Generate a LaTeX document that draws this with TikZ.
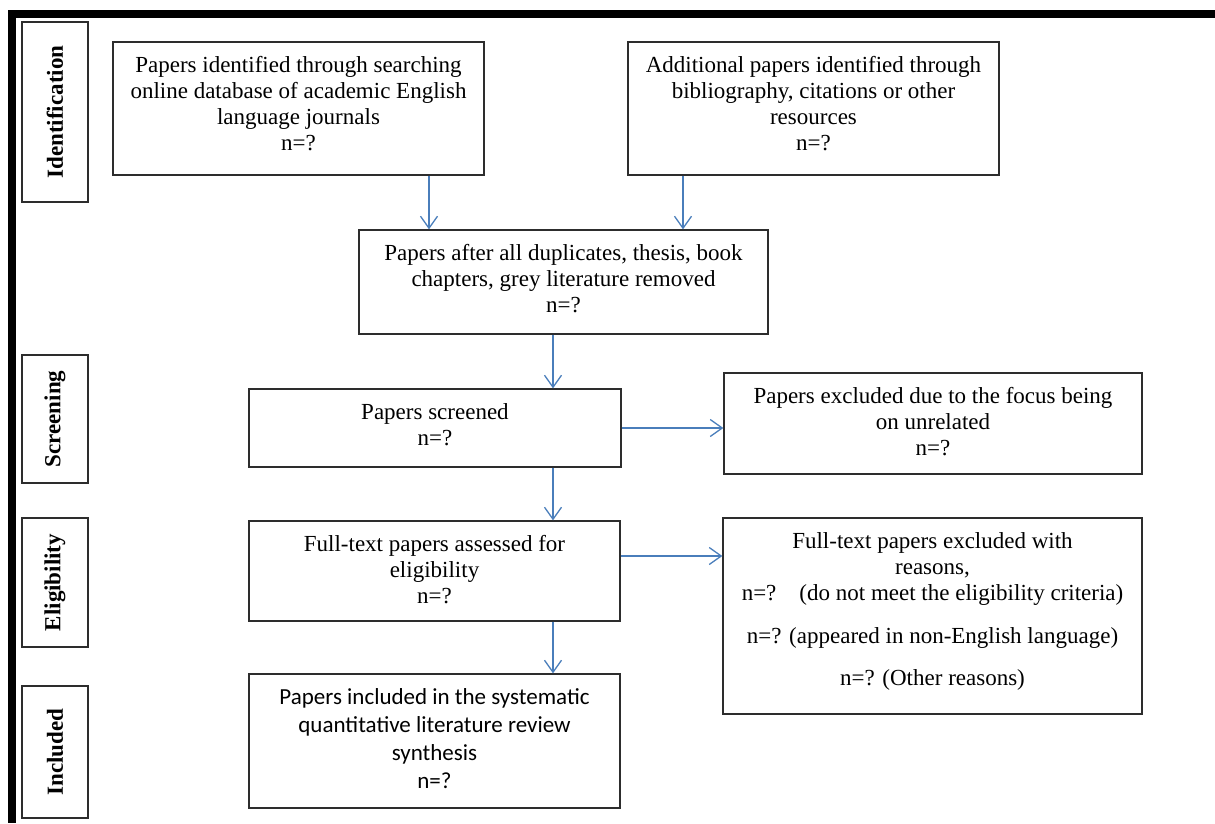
\documentclass[tikz,border=0pt]{standalone}
\usepackage{fontspec}
\setmainfont{Liberation Serif}
\newfontfamily\calibrifont{Carlito}
\usetikzlibrary{arrows.meta}
\definecolor{arrowblue}{RGB}{74,126,187}
\definecolor{edgegray}{RGB}{45,45,45}
\newcommand{\boxtext}[3]{\parbox[c][#2][t]{#1}{\centering\rule{0pt}{30pt}#3}}

\begin{document}
\begin{tikzpicture}[x=1pt,y=-1pt,
    stage/.style={draw=edgegray,line width=1.3pt,inner sep=0pt,font=\fontsize{23}{26}\selectfont},
    phase/.style={draw=edgegray,line width=1.3pt,inner sep=0pt,rotate=90,
      minimum height=66pt,font=\bfseries\fontsize{23}{26}\selectfont},
    flow/.style={draw=arrowblue,line width=1.3pt,-{Straight Barb[length=12pt,width=17pt]}}]
    \useasboundingbox (0,0) rectangle (1215,823);
    \fill (8,10) rectangle (1215,18);
    \fill (8,10) rectangle (16,823);
    % phases
    \node[phase,minimum width=180pt] (identify) at (55,112) {Identification};
    \node[phase,minimum width=128pt] (screen) at (55,419) {Screening};
    \node[phase,minimum width=129pt] (eligible) at (55,582.5) {Eligibility};
    \node[phase,minimum width=132pt] (include) at (55,752) {Included};
    % boxes
    \node[stage] (db) at (298.5,108.5)
      {\boxtext{371pt}{133pt}{Papers identified through searching\\online database of academic English\\language journals\\n=?}};
    \node[stage] (other) at (813.5,108.5)
      {\boxtext{371pt}{133pt}{Additional papers identified through\\bibliography, citations or other\\resources\\n=?}};
    \node[stage] (dedup) at (563.5,282)
      {\boxtext{409pt}{104pt}{Papers after all duplicates, thesis, book\\chapters, grey literature removed\\n=?}};
    \node[stage] (screened) at (435,428)
      {\boxtext{372pt}{78pt}{Papers screened\\n=?}};
    \node[stage] (excluded) at (933,423.5)
      {\boxtext{418pt}{101pt}{Papers excluded due to the focus being\\on unrelated\\n=?}};
    \node[stage] (fulltext) at (434.5,571)
      {\boxtext{371pt}{100pt}{Full-text papers assessed for\\eligibility\\n=?}};
    \node[stage] (ftexcluded) at (932.5,616)
      {\boxtext{419pt}{196pt}{Full-text papers excluded with\\reasons,\\n=?\hspace{1em}(do not meet the eligibility criteria)\\[17pt]n=? (appeared in non-English language)\\[16pt]n=? (Other reasons)}};
    \node[stage,font=\calibrifont\fontsize{23}{28}\selectfont] (included) at (434.5,741)
      {\boxtext{371pt}{134pt}{Papers included in the systematic\\quantitative literature review\\synthesis\\n=?}};
    % arrows
    \coordinate (leftdrop) at (429,0);
    \coordinate (rightdrop) at (683,0);
    \coordinate (spine) at (553,0);
    \draw[flow] (db.south -| leftdrop) -- (dedup.north -| leftdrop);
    \draw[flow] (other.south -| rightdrop) -- (dedup.north -| rightdrop);
    \draw[flow] (dedup.south -| spine) -- (screened.north -| spine);
    \draw[flow] (screened.east) -- (screened.east -| excluded.west);
    \draw[flow] (screened.south -| spine) -- (fulltext.north -| spine);
    \draw[flow] ([yshift=15pt]fulltext.east) -- ([yshift=15pt]fulltext.east -| ftexcluded.west);
    \draw[flow] (fulltext.south -| spine) -- (included.north -| spine);
\end{tikzpicture}
\end{document}
